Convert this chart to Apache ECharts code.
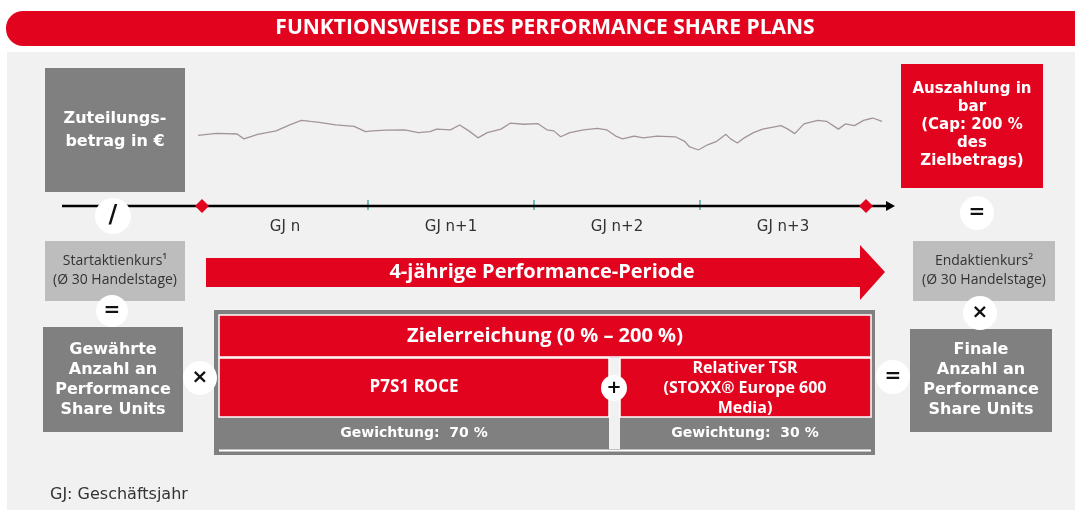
<!DOCTYPE html>
<html>
<head>
<meta charset="utf-8">
<script src="https://cdn.jsdelivr.net/npm/echarts@6/dist/echarts.min.js"></script>
<style>
  html, body { margin: 0; padding: 0; background: #fff; }
  #chart { width: 1075px; height: 510px; }
</style>
</head>
<body>
<div id="chart"></div>
<script>
//data
const titleText = 'FUNKTIONSWEISE DES PERFORMANCE SHARE PLANS';
const years = ['GJ n', 'GJ n+1', 'GJ n+2', 'GJ n+3'];
const periodText = '4-jährige Performance-Periode';
const goalText = 'Zielerreichung (0 % – 200 %)';
const kpiNames = ['P7S1 ROCE', 'Relativer TSR\n(STOXX® Europe 600\nMedia)'];
const kpiWeights = [70, 30];
const footnote = 'GJ: Geschäftsjahr';

// stock price squiggle
const priceDay = [40, 80, 125, 140, 170, 210, 240, 265, 285, 300, 340, 380, 405, 420, 450, 490, 520, 545, 560, 590,
  610, 630, 650, 670, 700, 720, 750, 780, 800, 815, 830, 850, 880, 910, 930, 950, 965, 990, 1010, 1040,
  1080, 1100, 1110, 1130, 1150, 1170, 1190, 1200, 1215, 1230, 1250, 1270, 1290, 1310, 1325, 1340, 1360, 1390, 1410, 1435,
  1450, 1470, 1490, 1510, 1530];
const priceLevel = [96, 99, 98, 91, 97.5, 102.5, 111, 117.5, 116, 115, 111, 109, 101.5, 102.5, 103.5, 104, 100, 101.5, 105, 104,
  111, 102.5, 92.5, 100, 105, 113.5, 112, 113, 104, 102.5, 94, 100, 104, 106, 104, 95, 91, 95, 92.5, 95,
  94, 87.5, 80, 75, 82.5, 87.5, 97.5, 91, 85, 92.5, 100, 105, 107.5, 110, 105, 98.5, 112.5, 117.5, 116, 105,
  112.5, 110, 117.5, 121, 116];

//colours
const red = '#e2041f';
const dark = '#808080';
const light = '#bdbdbd';
const bg = '#f1f1f1';
const wide = '"DejaVu Sans", sans-serif';
const narrow = '"Open Sans", "Noto Sans", sans-serif';

function rect(x, y, w, h, fill, extra) {
  return Object.assign({ type: 'rect', shape: { x: x, y: y, width: w, height: h }, style: { fill: fill } }, extra || {});
}

function label(x, y, text, size, color, weight, lh, fam) {
  return {
    type: 'text', x: x, y: y, z: 10,
    style: {
      text: text, fill: color,
      font: (weight || 'bold') + ' ' + size + 'px ' + (fam || wide),
      textAlign: 'center', textVerticalAlign: 'middle',
      lineHeight: lh || Math.round(size * 1.25)
    }
  };
}

function sign(x, y, r, text, size) {
  return [
    { type: 'circle', shape: { cx: x, cy: y, r: r }, style: { fill: '#fff' }, z: 8 },
    label(x, y, text, size, '#111', 'bold')
  ];
}

let graphic = [];

// background + title
graphic.push(rect(7, 52, 1080, 470, bg, { z: 0 }));
graphic.push(rect(6, 11, 1090, 35, red, { shape: { x: 6, y: 11, width: 1090, height: 35, r: 17 }, z: 1 }));
graphic.push(label(545, 28, titleText, 21, '#fff', 'bold', 22, narrow));

// left column
graphic.push(rect(45, 68, 140, 124, dark));
graphic.push(label(115, 130, 'Zuteilungs-\nbetrag in €', 16, '#fff', 'bold', 23));
graphic.push(rect(45, 241, 140, 60, light));
graphic.push(label(115, 271, 'Startaktienkurs¹\n(Ø 30 Handelstage)', 14, '#333', 'normal', 19, narrow));
graphic.push(rect(43, 327, 140, 105, dark));
graphic.push(label(113, 380, 'Gewährte\nAnzahl an\nPerformance\nShare Units', 16, '#fff', 'bold', 20));

// right column
graphic.push(rect(901, 64, 142, 124, red));
graphic.push(label(972, 125, 'Auszahlung in\nbar\n(Cap: 200 %\ndes\nZielbetrags)', 15, '#fff', 'bold', 18));
graphic.push(rect(913, 241, 142, 60, light));
graphic.push(label(984, 271, 'Endaktienkurs²\n(Ø 30 Handelstage)', 14, '#333', 'normal', 19, narrow));
graphic.push(rect(910, 329, 142, 103, dark));
graphic.push(label(981, 380, 'Finale\nAnzahl an\nPerformance\nShare Units', 16, '#fff', 'bold', 20));

// timeline
graphic.push({ type: 'line', shape: { x1: 62, y1: 206, x2: 888, y2: 206 }, style: { stroke: '#000', lineWidth: 2.5 }, z: 3 });
graphic.push({ type: 'polygon', shape: { points: [[886, 201], [895, 206], [886, 211]] }, style: { fill: '#000' }, z: 3 });
[202, 866].forEach(function (x) {
  graphic.push({ type: 'polygon', shape: { points: [[x, 199], [x + 7, 206], [x, 213], [x - 7, 206]] }, style: { fill: red }, z: 5 });
});

// performance arrow
graphic.push({
  type: 'polygon', z: 3,
  shape: { points: [[206, 258], [860, 258], [860, 245], [885, 272], [860, 300], [860, 287], [206, 287]] },
  style: { fill: red }
});
graphic.push(label(542, 272, periodText, 20, '#fff', 'bold', 24, narrow));

// KPI frame
graphic.push(rect(214, 310, 661, 145, dark, { z: 2 }));
graphic.push(rect(219, 315, 652, 42, red, { z: 3, style: { fill: red, stroke: '#fff', lineWidth: 1.5 } }));
graphic.push(label(545, 336, goalText, 20, '#fff', 'bold', 24, narrow));
graphic.push(rect(609, 358, 11, 91, bg, { z: 3 }));
graphic.push(rect(219, 358, 390, 59, red, { z: 3, style: { fill: red, stroke: '#fff', lineWidth: 1.5 } }));
graphic.push(rect(620, 358, 251, 59, red, { z: 3, style: { fill: red, stroke: '#fff', lineWidth: 1.5 } }));
graphic.push(label(414, 387, kpiNames[0], 17, '#fff', 'bold', 20, narrow));
graphic.push(label(745, 388, kpiNames[1], 16, '#fff', 'bold', 20, narrow));
graphic.push(label(414, 433, 'Gewichtung:  ' + kpiWeights[0] + ' %', 14, '#fff', 'bold'));
graphic.push(label(745, 433, 'Gewichtung:  ' + kpiWeights[1] + ' %', 14, '#fff', 'bold'));
graphic.push({ type: 'line', shape: { x1: 219, y1: 450.5, x2: 871, y2: 450.5 }, style: { stroke: '#fff', lineWidth: 2 }, z: 3 });

// operator circles
graphic = graphic.concat(
  sign(113, 216, 18, '/', 24),
  sign(112, 311, 16, '=', 20),
  sign(200, 378, 17, '×', 20),
  sign(614, 388, 13, '+', 18),
  sign(893, 377, 17, '=', 20),
  sign(977, 213, 17, '=', 20),
  sign(980, 313, 17, '×', 20)
);

// footnote
graphic.push({
  type: 'text', x: 50, y: 495, z: 10,
  style: { text: footnote, fill: '#333', font: 'normal 16px ' + wide, textAlign: 'left', textVerticalAlign: 'middle' }
});

let chart = echarts.init(document.getElementById('chart'));

let option = {
  animation: false,
  backgroundColor: '#fff',
  grid: [
    { left: 198, right: 193, top: 118, height: 32 },
    { left: 202, right: 209, top: 170, bottom: 300 }
  ],
  xAxis: [
    { type: 'value', gridIndex: 0, min: 40, max: 1530, show: false },
    {
      type: 'category', gridIndex: 1, data: years, boundaryGap: true,
      axisLine: { show: false },
      axisTick: { show: true, inside: true, length: 10, lineStyle: { color: '#6fbfb6', width: 2 } },
      axisLabel: { color: '#333', fontSize: 15, fontFamily: wide, margin: 10 }
    }
  ],
  yAxis: [
    { type: 'value', gridIndex: 0, min: 75, max: 121, show: false },
    { type: 'value', gridIndex: 1, show: false }
  ],
  series: [
    {
      type: 'line', xAxisIndex: 0, yAxisIndex: 0,
      data: priceDay.map(function (d, i) { return [d, priceLevel[i]]; }),
      symbol: 'none', silent: true,
      lineStyle: { color: '#a3949a', width: 1.3 }
    },
    {
      type: 'line', xAxisIndex: 1, yAxisIndex: 1, data: [], symbol: 'none'
    }
  ],
  graphic: graphic
};

chart.setOption(option);
</script>
</body>
</html>
